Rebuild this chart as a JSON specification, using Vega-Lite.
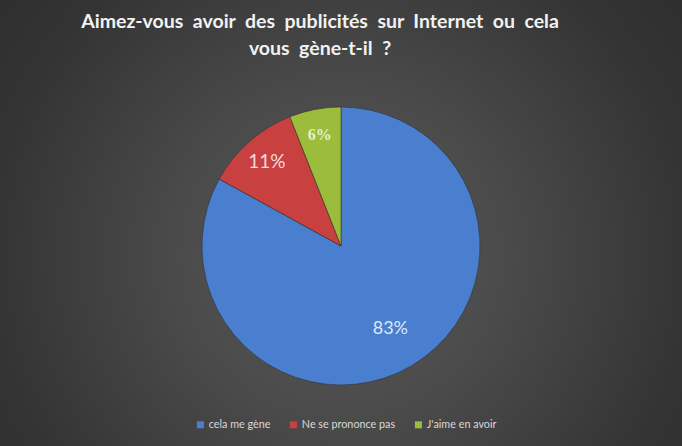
{
  "$schema": "https://vega.github.io/schema/vega-lite/v6.json",
  "width": 682,
  "height": 446,
  "autosize": {"type": "fit", "contains": "padding"},
  "padding": 0,
  "background": "#2c2c2c",
  "view": {
    "stroke": null,
    "fill": {
      "gradient": "radial",
      "x1": 0.5, "y1": 0.55, "r1": 0,
      "x2": 0.5, "y2": 0.55, "r2": 0.75,
      "stops": [
        {"offset": 0, "color": "#5a5a5a"},
        {"offset": 0.33, "color": "#4a4a4a"},
        {"offset": 0.68, "color": "#343434"},
        {"offset": 1, "color": "#292929"}
      ]
    }
  },
  "title": {
    "text": ["Aimez-vous \u00a0avoir \u00a0des \u00a0publicités \u00a0sur \u00a0Internet \u00a0ou \u00a0cela", "vous \u00a0gène-t-il \u00a0?"],
    "offset": -74,
    "dx": -21,
    "baseline": "alphabetic",
    "font": "Lato",
    "fontSize": 19.5,
    "fontWeight": "bold",
    "color": "#f2f2f2",
    "lineHeight": 27,
    "anchor": "middle"
  },
  "config": {"view": {"stroke": null}},
  "data": {
    "values": [
      {"categorie": "cela me gène", "part": 83, "etiquette": "83%", "rang": 1},
      {"categorie": "Ne se prononce pas", "part": 11, "etiquette": "11%", "rang": 2},
      {"categorie": "J'aime en avoir", "part": 6, "etiquette": "6%", "rang": 3}
    ]
  },
  "encoding": {
    "theta": {"field": "part", "type": "quantitative", "stack": true},
    "order": {"field": "rang", "type": "quantitative"}
  },
  "layer": [
    {
      "mark": {"type": "arc", "radius": 139, "yOffset": 23, "stroke": "#333333", "strokeWidth": 0.6},
      "encoding": {
        "color": {
          "field": "categorie",
          "type": "nominal",
          "sort": ["cela me gène", "Ne se prononce pas", "J'aime en avoir"],
          "scale": {
            "domain": ["cela me gène", "Ne se prononce pas", "J'aime en avoir"],
            "range": ["#4a7fcf", "#c84140", "#9cbc3b"]
          },
          "legend": {
            "title": null,
            "orient": "none",
            "legendX": 195,
            "legendY": 419,
            "direction": "horizontal",
            "symbolType": "square",
            "symbolSize": 49,
            "symbolStrokeWidth": 0,
            "labelFont": "Lato",
            "labelFontSize": 10.8,
            "labelColor": "#d9d9d9",
            "labelOffset": 3,
            "columnPadding": 17
          }
        }
      }
    },
    {
      "mark": {"type": "text", "radius": 97, "yOffset": 23, "font": "Lato", "fontSize": 18, "color": "#dfe7f5"},
      "encoding": {
        "text": {"condition": {"test": "datum.rang === 1", "field": "etiquette"}, "value": ""}
      }
    },
    {
      "mark": {"type": "text", "radius": 112, "yOffset": 23, "font": "Lato", "fontSize": 19, "color": "#f3dcdc"},
      "encoding": {
        "text": {"condition": {"test": "datum.rang === 2", "field": "etiquette"}, "value": ""}
      }
    },
    {
      "mark": {"type": "text", "radius": 113, "yOffset": 23, "font": "Liberation Serif", "fontSize": 16, "fontWeight": "bold", "color": "#e4efcd"},
      "encoding": {
        "text": {"condition": {"test": "datum.rang === 3", "field": "etiquette"}, "value": ""}
      }
    }
  ]
}
